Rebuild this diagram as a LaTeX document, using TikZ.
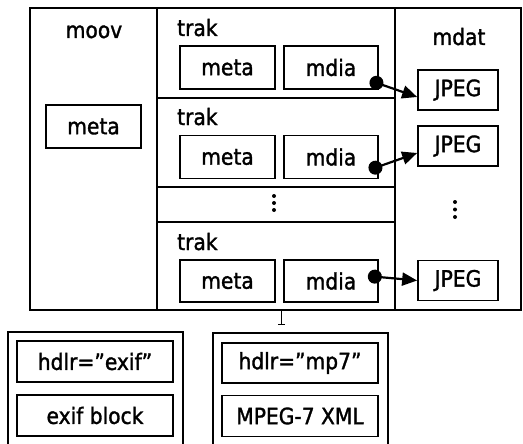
\documentclass[tikz,border=0pt]{standalone}
\usepackage{fontspec}
\setmainfont[FakeBold=1.4]{DejaVu Sans Condensed}
\usetikzlibrary{arrows.meta,calc}

\tikzset{
  frame/.style={draw, line width=1.7pt},
  box/.style={draw, line width=1.7pt, inner sep=0pt, minimum height=43pt},
  metabox/.style={box, minimum width=95pt},
  jpegbox/.style={box, minimum width=80pt, minimum height=40pt},
  leafbox/.style={box, minimum width=156pt, minimum height=41pt},
  lbl/.style={inner sep=0pt, anchor=base},
  link/.style={line width=2.2pt, {Circle[length=14pt]}-{Triangle[length=15pt,width=13pt]}},
  stub/.style={line width=0.8pt, -{Bar[width=7pt]}},
  dot/.style={circle, fill, inner sep=0pt, minimum size=4pt}
}

\begin{document}
\begin{tikzpicture}[x=1pt, y=-1pt, font=\fontsize{22.5}{27}\selectfont]
\clip (0,0) rectangle (523,444);
\fill[white] (0,0) rectangle (523,444);

% file layout: moov | trak rows | mdat
\draw[frame] (30,8) rectangle (521,310);
\draw[frame] (157,8) -- (157,310);
\draw[frame] (395,8) -- (395,310);
\draw[frame] (157,98) -- (395,98);
\draw[frame] (157,187) -- (395,187);
\draw[frame] (157,222) -- (395,222);

% moov column
\node[lbl] (moovlbl) at (94,38) {moov};
\node[metabox] (moovmeta) at (93.5,126.5) {meta};

% track rows
\node[lbl, anchor=base west] (trak1) at (177,36) {trak};
\node[metabox] (meta1) at (227.5,67.5) {meta};
\node[metabox, minimum width=94pt] (mdia1) at (331,67.5) {mdia};

\node[lbl, anchor=base west] (trak2) at (177,125) {trak};
\node[metabox] (meta2) at (227.5,157) {meta};
\node[metabox, minimum width=94pt] (mdia2) at (331,157) {mdia};

% elided tracks
\node[dot] (td1) at (274,196) {};
\node[dot] (td2) at (274,203) {};
\node[dot] (td3) at (274,210) {};

\node[lbl, anchor=base west] (trak3) at (177,250) {trak};
\node[metabox, minimum height=42pt] (meta3) at (227.5,281) {meta};
\node[metabox, minimum width=94pt, minimum height=42pt] (mdia3) at (331,281) {mdia};

% mdat column
\node[lbl] (mdatlbl) at (459,45) {mdat};
\node[jpegbox] (jpeg1) at (458,90) {JPEG};
\node[jpegbox] (jpeg2) at (458,146) {JPEG};
\node[dot] (md1) at (455,202) {};
\node[dot] (md2) at (455,209.5) {};
\node[dot] (md3) at (455,217) {};
\node[jpegbox] (jpeg3) at (458,280.5) {JPEG};

% media references
\coordinate (d1) at ([xshift=-9pt, yshift=-13pt]mdia1.east);
\coordinate (d2) at ([xshift=-10pt, yshift=-13pt]mdia2.east);
\coordinate (d3) at ([xshift=-11pt, yshift=5pt]mdia3.east);
\draw[link] (d1) -- ([yshift=-7pt]jpeg1.west);
\draw[link] (d2) -- ([yshift=-7pt]jpeg2.west);
\draw[link] (d3) -- (jpeg3.west);

% meta box contents
\draw[frame] (8,332) rectangle (183,450);
\node[leafbox] (hexif) at (95,361.5) {hdlr=\char"201Dexif\char"201D};
\node[leafbox] (exifblk) at (95,415.5) {exif block};

\draw[frame] (213,333) rectangle (388,450);
\node[leafbox, minimum height=40pt] (hmp7) at (300,363) {hdlr=\char"201Dmp7\char"201D};
\node[leafbox] (mp7xml) at (300,416) {MPEG-7 XML};

\coordinate (s0) at (281,311);
\coordinate (s1) at (281,325);
\draw[stub] (s0) -- (s1);
\end{tikzpicture}
\end{document}
